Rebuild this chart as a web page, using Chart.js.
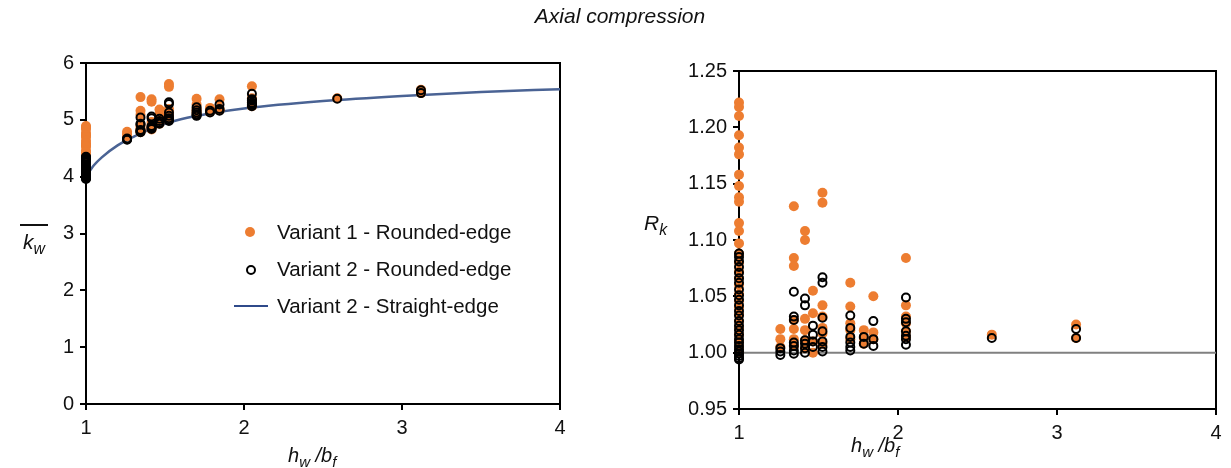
<!DOCTYPE html>
<html lang="en">
<head>
<meta charset="UTF-8">
<script src="https://cdn.jsdelivr.net/npm/chart.js"></script>
<title>Axial compression</title>
<style>
  body { margin: 0; background: #fff; font-family: "Liberation Sans", Arial, sans-serif; color: #111; }
  #page { position: relative; width: 1231px; height: 468px; overflow: hidden; }
  .box { position: absolute; top: 0; height: 468px; }
  .lbl { position: absolute; white-space: nowrap; font-style: italic; }
  .lbl sub { font-size: 75%; vertical-align: -0.3em; }
  #legend { position: absolute; left: 232px; top: 216px; font-size: 20.5px; }
  #legend .row { position: relative; height: 37px; line-height: 32px; padding-left: 45px; }
  #legend .mk { position: absolute; }
</style>
</head>
<body>
<div id="page">
  <div class="box" style="left:0;width:600px"><canvas id="kwChart"></canvas></div>
  <div class="box" style="left:600px;width:631px"><canvas id="rkChart"></canvas></div>

  <div class="lbl" style="left:0;width:1240px;top:4px;text-align:center;font-size:21px">Axial compression</div>

  <div class="lbl" style="left:20px;top:224px;font-size:21px"><span style="border-top:2px solid #111;padding:0 3px 0 3px;display:inline-block;line-height:24px;padding-top:4px">k<sub>w</sub></span></div>
  <div class="lbl" style="left:288px;top:444px;font-size:20px">h<sub>w</sub> /b<sub>f</sub></div>

  <div class="lbl" style="left:644px;top:211px;font-size:21px">R<sub>k</sub></div>
  <div class="lbl" style="left:851px;top:434px;font-size:20px">h<sub>w</sub> /b<sub>f</sub></div>

  <div id="legend">
    <div class="row"><span class="mk" style="left:13px;top:11px;width:10px;height:10px;border-radius:50%;background:#ED7D31"></span>Variant 1 - Rounded-edge</div>
    <div class="row"><span class="mk" style="left:14px;top:12px;width:6px;height:6px;border-radius:50%;border:2px solid #000"></span>Variant 2 - Rounded-edge</div>
    <div class="row"><span class="mk" style="left:2px;top:15px;width:34px;height:2px;background:#2F4A8A"></span>Variant 2 - Straight-edge</div>
  </div>
</div>

<script>
// h_w/b_f positions of the specimen groups
const groupX = [1, 1.26, 1.345, 1.415, 1.465, 1.525, 1.70, 1.785, 1.845, 2.05, 2.59, 3.12];

// left chart: buckling coefficient k_w, one list per group
const kwV1 = [
  [4.89, 4.87, 4.84, 4.77, 4.73, 4.70, 4.63, 4.59, 4.55, 4.53, 4.46, 4.43, 4.39, 4.35, 4.32, 4.29, 4.26, 4.24, 4.21, 4.18, 4.16, 4.14, 4.11, 4.09, 4.06, 4.04, 4.02, 4.00],
  [4.79, 4.75, 4.71],
  [5.40, 5.16, 5.09, 4.89, 4.85, 4.81, 4.78],
  [5.36, 5.32, 4.96, 4.91, 4.87, 4.83],
  [5.18, 5.09, 4.97, 4.93],
  [5.63, 5.58, 5.19, 5.14, 5.09, 5.06, 5.02],
  [5.37, 5.27, 5.19, 5.16, 5.12],
  [5.21, 5.17, 5.14],
  [5.36, 5.20, 5.17],
  [5.59, 5.38, 5.33, 5.30, 5.26, 5.24],
  [5.38],
  [5.53, 5.47]
];
const kwV2 = [
  [4.35, 4.34, 4.32, 4.30, 4.28, 4.26, 4.25, 4.22, 4.20, 4.19, 4.17, 4.15, 4.13, 4.11, 4.10, 4.08, 4.06, 4.05, 4.04, 4.02, 4.01, 4.00, 3.99, 3.98, 3.97, 3.96],
  [4.67, 4.66, 4.65],
  [5.04, 4.93, 4.92, 4.82, 4.81, 4.79, 4.78],
  [5.06, 5.03, 4.89, 4.87, 4.86, 4.84],
  [5.02, 4.98, 4.95, 4.93],
  [5.31, 5.28, 5.13, 5.07, 5.03, 5.00, 4.98],
  [5.22, 5.17, 5.13, 5.10, 5.08, 5.07],
  [5.16, 5.13],
  [5.27, 5.19, 5.16],
  [5.46, 5.36, 5.34, 5.30, 5.28, 5.26, 5.24],
  [5.37],
  [5.52, 5.47]
];
// straight-edge curve
const curveX = [1, 1.05, 1.1, 1.2, 1.3, 1.4, 1.5, 1.6, 1.8, 2.0, 2.5, 3.0, 3.5, 4.0];
const curveK = [4.0, 4.2, 4.34, 4.55, 4.7, 4.83, 4.93, 5.01, 5.12, 5.2, 5.33, 5.42, 5.49, 5.54];

// right chart: ratio R_k
const rkV1 = [
  [1.222, 1.218, 1.210, 1.193, 1.182, 1.176, 1.158, 1.148, 1.138, 1.134, 1.115, 1.108, 1.097, 1.088, 1.080, 1.072, 1.066, 1.060, 1.052, 1.046, 1.040, 1.034, 1.028, 1.022, 1.016, 1.010, 1.005, 1.000],
  [1.021, 1.012, 1.005],
  [1.130, 1.084, 1.077, 1.029, 1.021, 1.012, 1.006],
  [1.108, 1.100, 1.030, 1.020, 1.011, 1.004],
  [1.055, 1.035, 1.010, 1.000],
  [1.142, 1.133, 1.042, 1.032, 1.022, 1.017, 1.008],
  [1.062, 1.041, 1.026, 1.020, 1.012],
  [1.020, 1.013, 1.008],
  [1.050, 1.018, 1.012],
  [1.084, 1.042, 1.032, 1.026, 1.019, 1.014],
  [1.016],
  [1.025, 1.013]
];
const rkV2 = [
  [1.088, 1.085, 1.081, 1.076, 1.071, 1.066, 1.062, 1.056, 1.051, 1.047, 1.042, 1.037, 1.033, 1.028, 1.024, 1.020, 1.016, 1.012, 1.009, 1.006, 1.003, 1.001, 0.999, 0.997, 0.995, 0.994],
  [1.004, 1.001, 0.998],
  [1.054, 1.032, 1.029, 1.009, 1.006, 1.002, 0.999],
  [1.048, 1.042, 1.011, 1.008, 1.004, 1.000],
  [1.024, 1.016, 1.010, 1.005],
  [1.067, 1.062, 1.031, 1.019, 1.010, 1.005, 1.001],
  [1.033, 1.022, 1.014, 1.009, 1.005, 1.002],
  [1.014, 1.008],
  [1.028, 1.012, 1.006],
  [1.049, 1.030, 1.027, 1.019, 1.015, 1.012, 1.007],
  [1.013],
  [1.021, 1.013]
];
const refX = [1, 4];
const refR = [1, 1];

const orange = '#ED7D31';
const tickFont = { family: '"Liberation Sans", Arial, sans-serif', size: 20 };

function toPoints(groups) {
  return groups.flatMap((vals, i) => vals.map(v => ({ x: groupX[i], y: v })));
}
function pairs(xs, ys) {
  return xs.map((x, i) => ({ x: x, y: ys[i] }));
}

// box round the plot area
const frame = {
  id: 'frame',
  beforeDatasetsDraw(chart) {
    const a = chart.chartArea, ctx = chart.ctx;
    ctx.save();
    ctx.strokeStyle = '#000';
    ctx.lineWidth = 2;
    ctx.strokeRect(a.left, a.top, a.right - a.left, a.bottom - a.top);
    ctx.restore();
  }
};

function axis(min, max, step, fmt, fixed) {
  return {
    type: 'linear', min: min, max: max,
    afterFit(s) { if (fixed.w) s.width = fixed.w; if (fixed.h) s.height = fixed.h; },
    ticks: { stepSize: step, color: '#111', font: tickFont, padding: 6, callback: fmt },
    grid: { drawOnChartArea: false, drawTicks: true, tickLength: 6, color: '#000', lineWidth: 2 },
    border: { display: true, color: '#000', width: 2 }
  };
}

function scatterSet(points, filled) {
  return {
    type: 'scatter', data: points, clip: false,
    pointRadius: filled ? 5 : 4,
    pointBorderWidth: filled ? 0 : 2,
    pointBackgroundColor: filled ? orange : 'rgba(0,0,0,0)',
    pointBorderColor: filled ? orange : '#000',
    order: filled ? 2 : 1
  };
}

const common = {
  responsive: false,
  animation: false,
  plugins: { legend: { display: false }, tooltip: { enabled: false } }
};

const c1 = document.getElementById('kwChart');
c1.width = 600; c1.height = 468;
new Chart(c1, {
  type: 'scatter',
  data: {
    datasets: [
      scatterSet(toPoints(kwV1), true),
      scatterSet(toPoints(kwV2), false),
      {
        type: 'line', data: pairs(curveX, curveK), borderColor: '#4A6394', borderWidth: 2.5,
        pointRadius: 0, cubicInterpolationMode: 'monotone', order: 3
      }
    ]
  },
  options: Object.assign({}, common, {
    layout: { padding: { left: 46, right: 40, top: 63, bottom: 34 } },
    scales: {
      x: axis(1, 4, 1, v => v, { h: 30 }),
      y: axis(0, 6, 1, v => v, { w: 40 })
    }
  }),
  plugins: [frame]
});

const c2 = document.getElementById('rkChart');
c2.width = 631; c2.height = 468;
new Chart(c2, {
  type: 'scatter',
  data: {
    datasets: [
      scatterSet(toPoints(rkV1), true),
      scatterSet(toPoints(rkV2), false),
      {
        type: 'line', data: pairs(refX, refR), borderColor: '#808080', borderWidth: 2,
        pointRadius: 0, order: 3
      }
    ]
  },
  options: Object.assign({}, common, {
    layout: { padding: { left: 89, right: 15, top: 71, bottom: 29 } },
    scales: {
      x: axis(1, 4, 1, v => v, { h: 30 }),
      y: axis(0.95, 1.25, 0.05, v => v.toFixed(2), { w: 50 })
    }
  }),
  plugins: [frame]
});
</script>
</body>
</html>
